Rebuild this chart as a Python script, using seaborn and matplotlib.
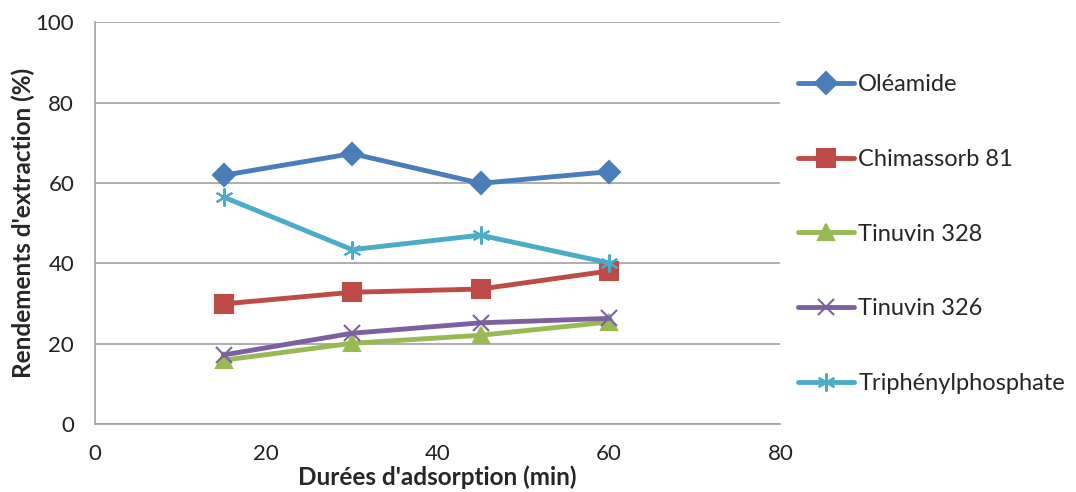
import pandas as pd
import matplotlib.pyplot as plt
import seaborn as sns

# Données
durees = [15, 30, 45, 60]
oleamide = [61.9, 67.3, 59.9, 62.8]
chimassorb = [29.9, 32.8, 33.6, 38.1]
tinuvin_328 = [15.9, 20.1, 22.1, 25.4]
tinuvin_326 = [17.2, 22.6, 25.2, 26.3]
triphenyl = [56.5, 43.4, 47.0, 40.1]

series = ["Oléamide", "Chimassorb 81", "Tinuvin 328", "Tinuvin 326", "Triphénylphosphate"]
valeurs = [oleamide, chimassorb, tinuvin_328, tinuvin_326, triphenyl]
couleurs = ["#4A7EBB", "#BE4B48", "#98B954", "#7D60A0", "#4BACC6"]
marqueurs = ["D", "s", "^", "x", (6, 2, 0)]
tailles = [11, 13, 12, 12, 13]

sns.set_style("white")
plt.rcParams['font.family'] = ['Lato', 'DejaVu Sans']

fig = plt.figure(figsize=(10.76, 4.92), dpi=100)
ax = fig.add_axes([0.0883, 0.138, 0.637, 0.817])

for nom, vals, c, m, s in zip(series, valeurs, couleurs, marqueurs, tailles):
    df = pd.DataFrame({"x": durees, "y": vals})
    sns.lineplot(data=df, x="x", y="y", ax=ax, color=c, linewidth=3.5,
                 marker=m, markersize=s, markeredgecolor=c, markeredgewidth=1.5,
                 label=nom, legend=False)

ax.set_xlim(0, 80)
ax.set_ylim(0, 100)
ax.set_xticks(range(0, 81, 20))
ax.set_yticks(range(0, 101, 20))
ax.yaxis.grid(True, color="#A0A0A0", linewidth=1.2)
ax.xaxis.grid(False)
for sp in ["top", "right"]:
    ax.spines[sp].set_visible(False)
for sp in ["left", "bottom"]:
    ax.spines[sp].set_color("#A0A0A0")
    ax.spines[sp].set_linewidth(1.2)
ax.tick_params(axis="both", which="both", direction="out", length=5, width=1.2,
               color="#A0A0A0", labelsize=16, labelcolor="#222222")
ax.tick_params(axis="y", pad=10)
ax.tick_params(axis="x", pad=9)

ax.set_xlabel("Durées d'adsorption (min)", fontsize=17.5, fontweight="bold", labelpad=1)
ax.set_ylabel("Rendements d'extraction (%)", fontsize=17.5, fontweight="bold", labelpad=0)

handles, labels = ax.get_legend_handles_labels()
fig.legend(handles, labels, loc="upper left", bbox_to_anchor=(0.7325, 0.868),
           frameon=False, fontsize=17, labelspacing=2.27, handlelength=2.37,
           handletextpad=0.2, borderaxespad=0)

fig.savefig("out.png", dpi=100)
